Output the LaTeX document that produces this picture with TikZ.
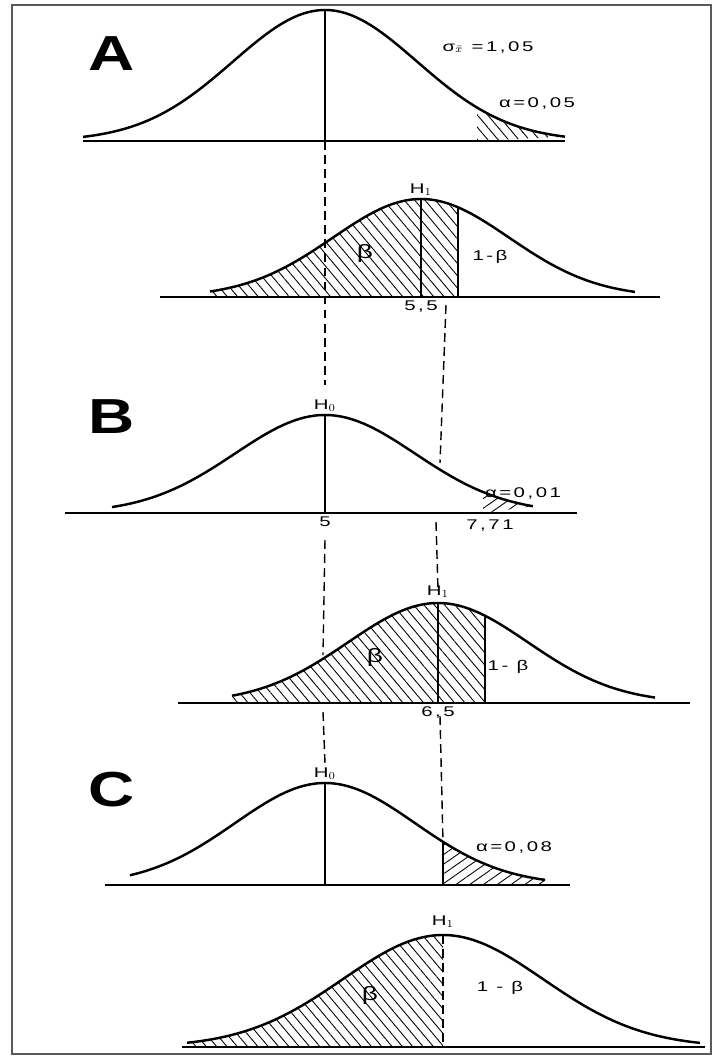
\documentclass[tikz,border=0pt]{standalone}
\usepackage{fontspec}
\setmainfont{Liberation Sans}
\newfontfamily\lblfont{Liberation Sans}[FakeStretch=1.45, LetterSpace=18]
\newfontfamily\bigfont{Liberation Sans}[FakeStretch=1.3]
\usetikzlibrary{patterns.meta, positioning}

\begin{document}
\begin{tikzpicture}[x=0.02cm, y=-0.02cm,
    declare function={gauss(\x,\m,\s,\h)=\h*exp(-0.5*((\x-\m)/\s)^2);},
    curve/.style={line width=1.4pt, line join=round},
    axis/.style={line width=0.9pt},
    split/.style={line width=0.9pt},
    guide/.style={dash pattern=on 5pt off 3pt, line width=0.8pt},
    hatchL/.style={pattern={Lines[angle=-50,distance=4.5pt,line width=0.5pt]}},
    hatchR/.style={pattern={Lines[angle=35,distance=4.5pt,line width=0.5pt]}},
    lbl/.style={font=\lblfont\fontsize{8}{9}\selectfont, inner sep=1pt},
    greek/.style={font=\lblfont\fontsize{11}{12}\selectfont, inner sep=1pt},
    letter/.style={font=\bigfont\fontsize{28}{30}\selectfont\bfseries, inner sep=0pt}]
    \useasboundingbox (0,0) rectangle (719,1059);
    \draw[gray!70!black, line width=1.2pt] (12,5) rectangle (711,1054);

    % Panel A
    \node[letter] (labA) at (112,54) {A};
    \fill[hatchL] (477,141) -- plot[domain=477:565, samples=30] (\x, {141-gauss(\x,325,92,131)}) -- cycle;
    \draw[axis] (83,141) -- (565,141);
    \draw[curve] plot[domain=83:565, samples=90, smooth] (\x, {141-gauss(\x,325,92,131)});
    \coordinate (a0top) at (325,10);
    \coordinate (a0) at (325,141);
    \draw[split] (a0top) -- (a0);
    \node[lbl] (sigA) at (488,47) {σ$_{\bar x}$ =1,05};
    \node[lbl] (alphaA) at (537,103) {α=0,05};

    \fill[hatchL] (210,297) -- plot[domain=210:458, samples=60] (\x, {297-gauss(\x,421,88,98)}) -- (458,297) -- cycle;
    \draw[axis] (160,297) -- (660,297);
    \draw[curve] plot[domain=210:635, samples=90, smooth] (\x, {297-gauss(\x,421,88,98)});
    \coordinate (a1top) at (421,199);
    \coordinate (a1) at (421,297);
    \coordinate (a1crit) at (458,297);
    \draw[split] (a1top) -- (a1);
    \draw[split] (458,{297-gauss(458,421,88,98)}) -- (a1crit);
    \node[lbl, above=1pt of a1top] (h1A) {H$_1$};
    \node[greek] (betaA) at (365,253) {β};
    \node[lbl] (powA) at (490,257) {1-β};
    \node[lbl, below=1pt of a1] (valA) {5,5};

    % guides A -> B
    \coordinate (g1) at (325,385);
    \coordinate (g0) at (446,305);
    \coordinate (g2) at (440,463);
    \draw[guide] (a0) -- (g1);
    \draw[guide] (g0) -- (g2);

    % Panel B
    \node[letter] (labB) at (112,417) {B};
    \fill[hatchR] (483,513) -- plot[domain=483:533, samples=20] (\x, {513-gauss(\x,325,90,98)}) -- cycle;
    \draw[axis] (65,513) -- (577,513);
    \draw[curve] plot[domain=112:533, samples=90, smooth] (\x, {513-gauss(\x,325,90,98)});
    \coordinate (b0top) at (325,415);
    \coordinate (b0) at (325,513);
    \draw[split] (b0top) -- (b0);
    \node[lbl, above=1pt of b0top] (h0B) {H$_0$};
    \node[lbl, below=1pt of b0] (valB0) {5};
    \node[lbl] (alphaB) at (523,493) {α=0,01};
    \node[lbl] (critB) at (490,526) {7,71};

    \fill[hatchL] (232,703) -- plot[domain=232:485, samples=60] (\x, {703-gauss(\x,438,90,100)}) -- (485,703) -- cycle;
    \draw[axis] (178,703) -- (690,703);
    \draw[curve] plot[domain=232:655, samples=90, smooth] (\x, {703-gauss(\x,438,90,100)});
    \coordinate (b1top) at (438,603);
    \coordinate (b1) at (438,703);
    \draw[split] (b1top) -- (b1);
    \draw[split] (485,{703-gauss(485,438,90,100)}) -- (485,703);
    \node[lbl, above=2pt of b1top] (h1B) {H$_1$};
    \node[greek] (betaB) at (375,657) {β};
    \node[lbl] (powB) at (508,667) {1- β};
    \node[lbl, below=1pt of b1] (valB1) {6,5};

    % guides B -> C
    \coordinate (g3) at (436,522);
    \coordinate (g4) at (438,590);
    \coordinate (g5) at (325,540);
    \coordinate (g6) at (323,655);
    \coordinate (g7) at (323,712);
    \coordinate (g8) at (325,763);
    \coordinate (g9) at (440,716);
    \draw[guide] (g3) -- (g4);
    \draw[guide] (g5) -- (g6);
    \draw[guide] (g7) -- (g8);

    % Panel C
    \node[letter] (labC) at (112,790) {C};
    \fill[hatchR] (443,885) -- plot[domain=443:545, samples=30] (\x, {885-gauss(\x,325,90,102)}) -- (545,885) -- cycle;
    \draw[line width=1.5pt] (105,885) -- (570,885);
    \draw[curve] plot[domain=130:545, samples=90, smooth] (\x, {885-gauss(\x,325,90,102)});
    \coordinate (c0top) at (325,783);
    \coordinate (c0) at (325,885);
    \coordinate (c0crit) at (443,{885-gauss(443,325,90,102)});
    \draw[split] (c0top) -- (c0);
    \draw[guide] (g9) -- (c0crit);
    \draw[split] (c0crit) -- (443,885);
    \node[lbl, above=1pt of c0top] (h0C) {H$_0$};
    \node[lbl] (alphaC) at (514,847) {α=0,08};

    \fill[hatchL] (187,1047) -- plot[domain=187:443, samples=60] (\x, {1047-gauss(\x,443,100,112)}) -- (443,1047) -- cycle;
    \draw[axis] (182,1047) -- (705,1047);
    \draw[curve] plot[domain=187:700, samples=90, smooth] (\x, {1047-gauss(\x,443,100,112)});
    \coordinate (c1top) at (443,935);
    \coordinate (c1) at (443,1047);
    \draw[guide, line width=1.4pt] (c1top) -- (c1);
    \node[lbl, above=3pt of c1top] (h1C) {H$_1$};
    \node[greek] (betaC) at (370,995) {β};
    \node[lbl] (powC) at (500,988) {1 - β};
\end{tikzpicture}
\end{document}
